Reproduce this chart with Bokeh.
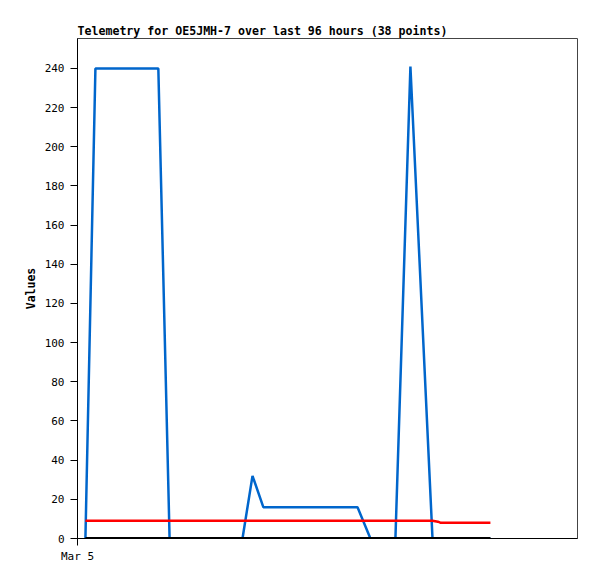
from bokeh.plotting import figure
from bokeh.models import Range1d, FixedTicker, SingleIntervalTicker
from bokeh.embed import file_html
from bokeh.resources import INLINE

# hours since Mar 5 00:00
hours = [1.9, 4.3, 7.0, 10.0, 13.0, 16.0, 19.4, 22.1, 25.0, 28.0, 31.0, 34.0, 37.0,
         39.6, 42.0, 44.6, 48.0, 51.0, 54.0, 57.0, 60.0, 63.0, 67.2, 70.3, 73.0,
         76.3, 79.9, 85.2, 86.5, 87.2, 88.0, 90.0, 92.0, 94.0, 96.0, 97.5, 98.3, 99.1]
blue_vals = [0, 240, 240, 240, 240, 240, 240, 0, 0, 0, 0, 0, 0,
             0, 32, 16, 16, 16, 16, 16, 16, 16, 16, 0, 0,
             0, 241, 0, 0, 0, 0, 0, 0, 0, 0, 0, 0, 0]
red_vals = [9.1] * 28 + [8.6] + [8.0] * 9
black_vals = [0] * 38
x_tick_labels = {0: "Mar 5"}
title_text = "Telemetry for OE5JMH-7 over last 96 hours (38 points)"

MONO = "DejaVu Sans Mono"

p = figure(width=593, height=573, output_backend="svg", toolbar_location=None,
           x_range=Range1d(0, 120), y_range=Range1d(0, 255.3),
           min_border_left=77, min_border_right=16, min_border_top=38, min_border_bottom=35)

p.title.text = title_text
p.title.text_font = MONO
p.title.text_font_size = "11.6px"
p.title.text_font_style = "bold"
p.title.text_color = "#000000"
p.title.offset = 0
p.title.standoff = 2

p.grid.visible = False
p.outline_line_color = "#444444"
p.outline_line_width = 1

p.line(hours, blue_vals, line_color="#0066cc", line_width=2.5)
p.line(hours, red_vals, line_color="#ff0000", line_width=2.5)
p.line(hours, black_vals, line_color="#000000", line_width=3)

p.yaxis.ticker = SingleIntervalTicker(interval=20)
p.yaxis.axis_label = "Values"
p.yaxis.axis_label_text_font = MONO
p.yaxis.axis_label_text_font_style = "bold"
p.yaxis.axis_label_text_font_size = "11.5px"
p.yaxis.axis_label_text_color = "#000000"
p.yaxis.axis_label_standoff = 4
p.yaxis.major_label_text_font = MONO
p.yaxis.major_label_text_font_size = "11px"
p.yaxis.minor_tick_line_color = None
p.yaxis.major_tick_out = 7
p.yaxis.major_tick_in = 0
p.yaxis.major_label_standoff = 6

p.xaxis.ticker = FixedTicker(ticks=[0])
p.xaxis.major_label_overrides = x_tick_labels
p.xaxis.major_label_text_font = MONO
p.xaxis.major_label_text_font_size = "11px"
p.xaxis.minor_tick_line_color = None
p.xaxis.major_tick_out = 7
p.xaxis.major_tick_in = 0
p.xaxis.major_label_standoff = 4

for ax in (p.xaxis[0], p.yaxis[0]):
    ax.axis_line_color = "#000000"
    ax.major_tick_line_color = "#000000"
    ax.major_label_text_color = "#000000"

open("out.html", "w").write(file_html(p, INLINE))
